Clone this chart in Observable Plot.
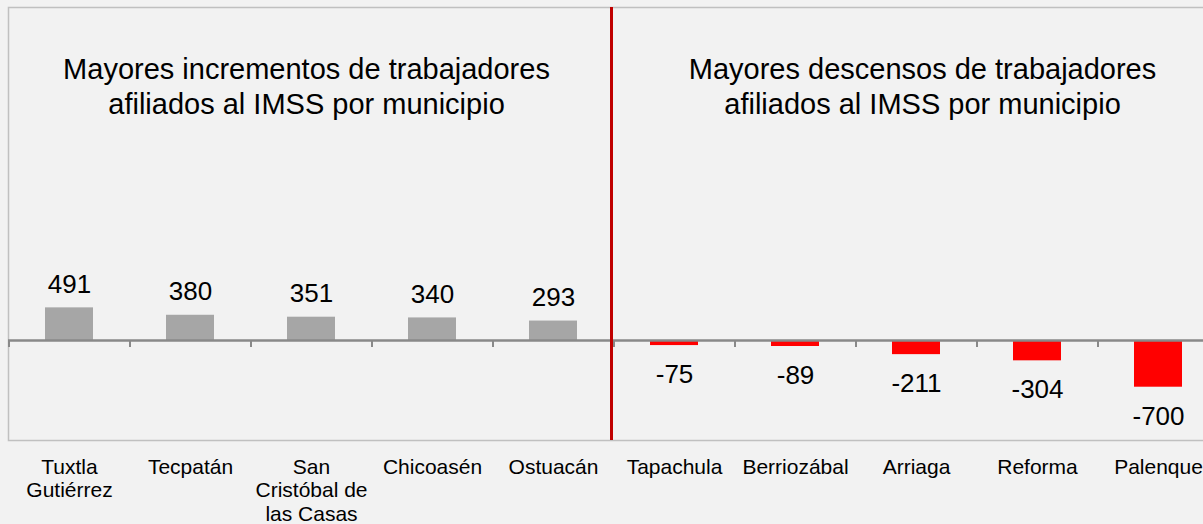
<!DOCTYPE html>
<html>
<head>
<meta charset="utf-8">
<script src="https://cdn.jsdelivr.net/npm/d3@7"></script>
<script src="https://cdn.jsdelivr.net/npm/@observablehq/plot@0.6"></script>
<style>
  html, body { margin: 0; padding: 0; background: #f2f2f2; overflow: hidden; }
  #chart svg { display: block; }
</style>
</head>
<body>
<div id="chart"></div>
<script>
const municipios = ["Tuxtla Gutiérrez", "Tecpatán", "San Cristóbal de las Casas", "Chicoasén", "Ostuacán", "Tapachula", "Berriozábal", "Arriaga", "Reforma", "Palenque"];
const valores = [491, 380, 351, 340, 293, -75, -89, -211, -304, -700];
const etiquetas = ["Tuxtla\nGutiérrez", "Tecpatán", "San\nCristóbal de\nlas Casas", "Chicoasén", "Ostuacán", "Tapachula", "Berriozábal", "Arriaga", "Reforma", "Palenque"];
const tituloIzq = "Mayores incrementos de trabajadores\nafiliados al IMSS por municipio";
const tituloDer = "Mayores descensos de trabajadores\nafiliados al IMSS por municipio";
const divisorX = ["Tapachula"];

const data = municipios.map((m, i) => ({municipio: m, valor: valores[i], etiqueta: etiquetas[i]}));
const positivos = data.filter(d => d.valor >= 0);
const negativos = data.filter(d => d.valor < 0);

const font = "'Liberation Sans', Arial, sans-serif";

const chart = Plot.plot({
  width: 1219,
  height: 524,
  marginLeft: 8,
  marginRight: 0,
  marginTop: 7,
  marginBottom: 84,
  style: {background: "#f2f2f2", fontFamily: font, maxWidth: "none", overflow: "hidden"},
  x: {type: "band", domain: municipios, paddingInner: 0.6, paddingOuter: 0.3, axis: null},
  y: {domain: [-1500, 5000], axis: null},
  marks: [
    Plot.frame({stroke: "#c0c0c0", strokeWidth: 1.5}),
    Plot.barY(data, {x: "municipio", y: "valor", fill: d => d.valor >= 0 ? "#a6a6a6" : "#ff0000"}),
    Plot.ruleY([0], {stroke: "#898989", strokeWidth: 2.5}),
    Plot.ruleX(municipios, {x: d => d, y1: 0, y2: 0, insetBottom: -7, dx: -60.5, stroke: "#898989", strokeWidth: 2}),
    Plot.ruleX(divisorX, {x: d => d, dx: -63, stroke: "#c00000", strokeWidth: 3}),
    Plot.text(positivos, {x: "municipio", y: "valor", text: d => String(d.valor), lineAnchor: "bottom", dy: -15, fontSize: 26, fill: "#000"}),
    Plot.text(negativos, {x: "municipio", y: "valor", text: d => String(d.valor), lineAnchor: "top", dy: 19, fontSize: 26, fill: "#000"}),
    Plot.text(data, {x: "municipio", text: "etiqueta", frameAnchor: "bottom", lineAnchor: "top", dy: 16, fontSize: 21, lineHeight: 1.14, fill: "#000"}),
    Plot.text([tituloIzq], {x: () => "San Cristóbal de las Casas", text: d => d, frameAnchor: "top", lineAnchor: "top", dy: 47, dx: -5, fontSize: 29, lineHeight: 1.2, fill: "#000"}),
    Plot.text([tituloDer], {x: () => "Arriaga", text: d => d, frameAnchor: "top", lineAnchor: "top", dy: 47, dx: 6, fontSize: 29, lineHeight: 1.2, fill: "#000"})
  ]
});
document.getElementById("chart").appendChild(chart);
</script>
</body>
</html>
